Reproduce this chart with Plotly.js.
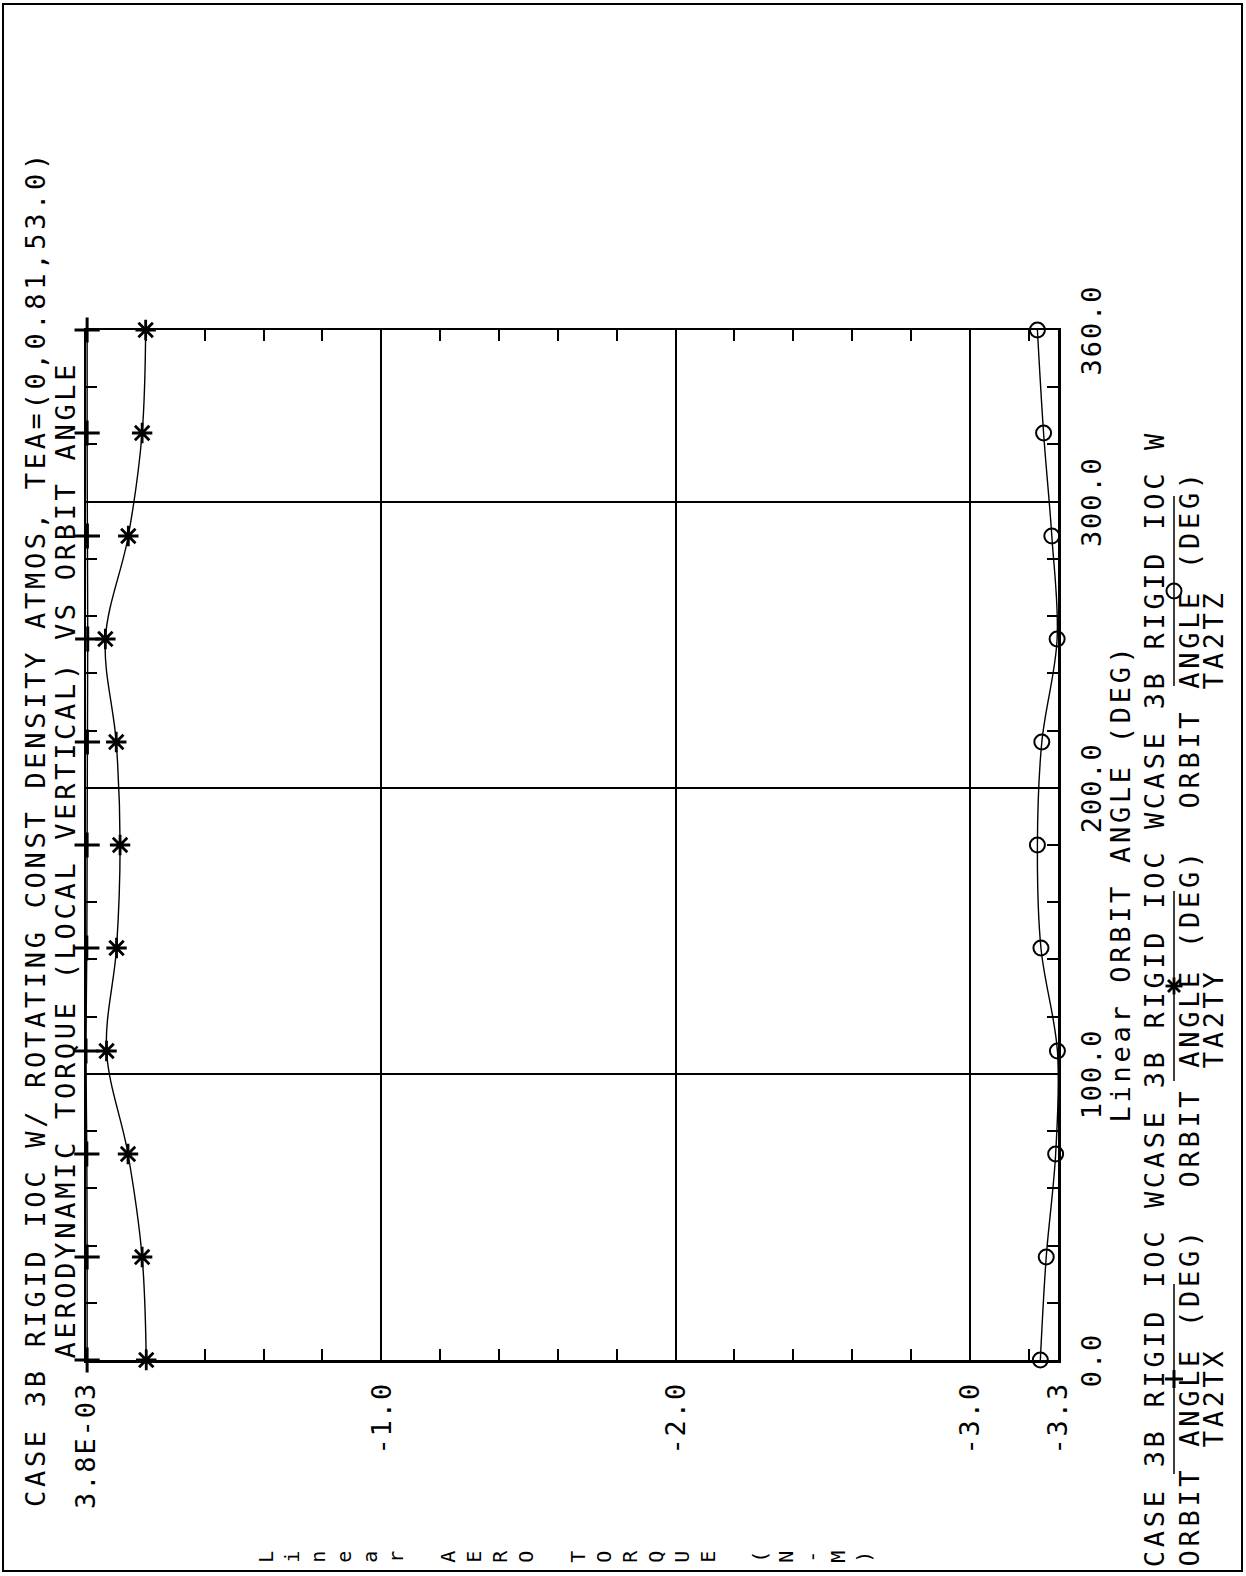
<!DOCTYPE html>
<html>
<head>
<meta charset="utf-8">
<script src="https://cdn.plot.ly/plotly-3.0.1.min.js"></script>
<style>
  html, body { margin: 0; padding: 0; background: #ffffff; overflow: hidden; }
  #wrap {
    position: absolute; left: 0; top: 0;
    width: 1576px; height: 1246px;
    transform-origin: 0 0;
    transform: translate(0px, 1576px) rotate(-90deg);
  }
  #chart { width: 1576px; height: 1246px; }
  #chart .gtitle, #chart .annotation-text { letter-spacing: 3.7px; }
  #chart .xtick text, #chart .ytick text { letter-spacing: 1.9px; }
</style>
</head>
<body>
<div id="wrap"><div id="chart"></div></div>
<script>
// ---------------- data ----------------
const orbitAngleDeg = [0, 36, 72, 108, 144, 180, 216, 252, 288, 324, 360];
const ta2tx = [0.0, 0.0, 0.0010, 0.0038, 0.0010, 0.0, -0.0010, -0.0020, -0.0010, 0.0, 0.0];
const ta2ty = [-0.201, -0.187, -0.139, -0.066, -0.100, -0.112, -0.099, -0.062, -0.140, -0.187, -0.199];
const ta2tz = [-3.240, -3.260, -3.292, -3.298, -3.242, -3.230, -3.245, -3.297, -3.279, -3.251, -3.230];

const xTickVals = [0, 100, 200, 300, 360];
const xTickText = ['0.0', '100.0', '200.0', '300.0', '360.0'];
const yTickVals = [0.0038, -1, -2, -3, -3.3];
const yTickText = ['3.8E-03', '-1.0', '-2.0', '-3.0', '-3.3'];

const seriesNames = ['TA2TX', 'TA2TY', 'TA2TZ'];
const legendCase = 'CASE 3B RIGID IOC W';
const legendUnits = 'ORBIT ANGLE (DEG)';
const titleLine1 = 'CASE 3B RIGID IOC W/ ROTATING CONST DENSITY ATMOS, TEA=(0,0.81,53.0)';
const titleLine2 = 'AERODYNAMIC TORQUE (LOCAL VERTICAL) VS ORBIT ANGLE';
const xTitle = 'Linear ORBIT ANGLE (DEG)';
const yTitle = 'Linear AERO TORQUE (N-M)';

// ---------------- styling / geometry (landscape page, rotated by CSS) ----------------
const FW = 1576, FH = 1246;
const L = 216, T = 86, W = 1030, H = 972;
const R = FW - L - W, B = FH - T - H;
const FONT = 'DejaVu Sans Mono';
const FS = 27;
const ADV = 19.95;
function px(x) { return (x - L) / W; }
function py(y) { return 1 - (y - T) / H; }

const symbols = ['cross-thin-open', 'asterisk-open', 'circle-open'];
const symSize = [18, 17, 15];
const symWidth = [3, 2.8, 2];

const traces = [ta2tx, ta2ty, ta2tz].map((vals, i) => ({
  x: orbitAngleDeg, y: vals, name: seriesNames[i],
  type: 'scatter', mode: 'lines+markers', cliponaxis: false,
  line: { color: 'black', width: 1.4, shape: 'spline', smoothing: 1 },
  marker: { symbol: symbols[i], size: symSize[i], color: 'black',
            line: { color: 'black', width: symWidth[i] } }
}));

// ---------------- frame, legend key lines and key symbols (layout shapes) ----------------
const legStep = 19 * ADV;
const legStart = 9;
const legMarkX = [197, 590, 985];
const legLineY = 1174;

const shapes = [
  { type: 'rect', xref: 'paper', yref: 'paper', x0: px(5), x1: px(1572), y0: py(3), y1: py(1242),
    line: { color: 'black', width: 2 } }
];
function seg(x0, y0, x1, y1, w) {
  shapes.push({ type: 'line', xref: 'paper', yref: 'paper',
    x0: px(x0), y0: py(y0), x1: px(x1), y1: py(y1), line: { color: 'black', width: w } });
}
legMarkX.forEach(mx => seg(mx - 95, legLineY, mx + 95, legLineY, 1.5));
// key 1: plus
(function () {
  const cx = legMarkX[0], cy = legLineY, r = 9;
  seg(cx - r, cy, cx + r, cy, 3); seg(cx, cy - r, cx, cy + r, 3);
})();
// key 2: asterisk
(function () {
  const cx = legMarkX[1], cy = legLineY, r = 8.5, d = r * 0.707;
  seg(cx - r, cy, cx + r, cy, 2.8); seg(cx, cy - r, cx, cy + r, 2.8);
  seg(cx - d, cy - d, cx + d, cy + d, 2.8); seg(cx - d, cy + d, cx + d, cy - d, 2.8);
})();
// key 3: circle
(function () {
  const cx = legMarkX[2], cy = legLineY, r = 7.5;
  shapes.push({ type: 'circle', xref: 'paper', yref: 'paper',
    x0: px(cx - r), x1: px(cx + r), y0: py(cy + r), y1: py(cy - r),
    line: { color: 'black', width: 2 }, fillcolor: 'rgba(0,0,0,0)' });
})();

const annotations = [];
// text placed by its centre (letter-spacing is applied by CSS after Plotly measures)
function ann(text, x, y, size) {
  annotations.push({ text: text, x: px(x), y: py(y), xref: 'paper', yref: 'paper',
    xanchor: 'center', yanchor: 'middle', showarrow: false,
    font: { family: FONT, size: size, color: 'black' } });
}
function annLeft(text, start, y) { ann(text, start + text.length * ADV / 2, y, FS); }

annLeft(titleLine2, 218, 66);
ann(xTitle, 693, 1120, FS);
ann(yTitle.split('').map(c => c === ' ' ? '\u00A0' : c).join('<br>'), 21, 565, 20);
for (let i = 0; i < 3; i++) {
  const s = legStart + i * legStep;
  annLeft(legendCase, s, 1154);
  annLeft(legendUnits, s, 1189);
  ann(seriesNames[i], s + 8.5 * ADV, 1213, FS);
}

const axisCommon = {
  showline: true, linecolor: 'black', linewidth: 2.5, mirror: 'ticks',
  showgrid: true, gridcolor: 'black', gridwidth: 2, zeroline: false,
  ticks: 'inside', ticklen: 11, tickwidth: 2, tickcolor: 'black',
  tickmode: 'array', automargin: false,
  tickfont: { family: FONT, size: FS, color: 'black' }
};

const layout = {
  width: FW, height: FH,
  margin: { l: L, r: R, t: T, b: B, pad: 0 },
  paper_bgcolor: 'white', plot_bgcolor: 'white',
  showlegend: false,
  title: { text: titleLine1, font: { family: FONT, size: FS, color: 'black' },
           xref: 'container', yref: 'container', x: 69 / FW, xanchor: 'left',
           y: 1 - 36 / FH, yanchor: 'middle' },
  xaxis: Object.assign({}, axisCommon, {
    range: [0, 360], tickvals: xTickVals, ticktext: xTickText, ticklabelstandoff: 8,
    minor: { tick0: 0, dtick: 20, ticks: 'inside', ticklen: 11, tickwidth: 2, tickcolor: 'black', showgrid: false }
  }),
  yaxis: Object.assign({}, axisCommon, {
    range: [-3.3, 0.0038], tickvals: yTickVals, ticktext: yTickText, ticklabelstandoff: 14,
    minor: { tick0: 0, dtick: 0.2, ticks: 'inside', ticklen: 11, tickwidth: 2, tickcolor: 'black', showgrid: false }
  }),
  shapes: shapes,
  annotations: annotations
};

Plotly.newPlot('chart', traces, layout, { staticPlot: true, displayModeBar: false });
</script>
</body>
</html>
